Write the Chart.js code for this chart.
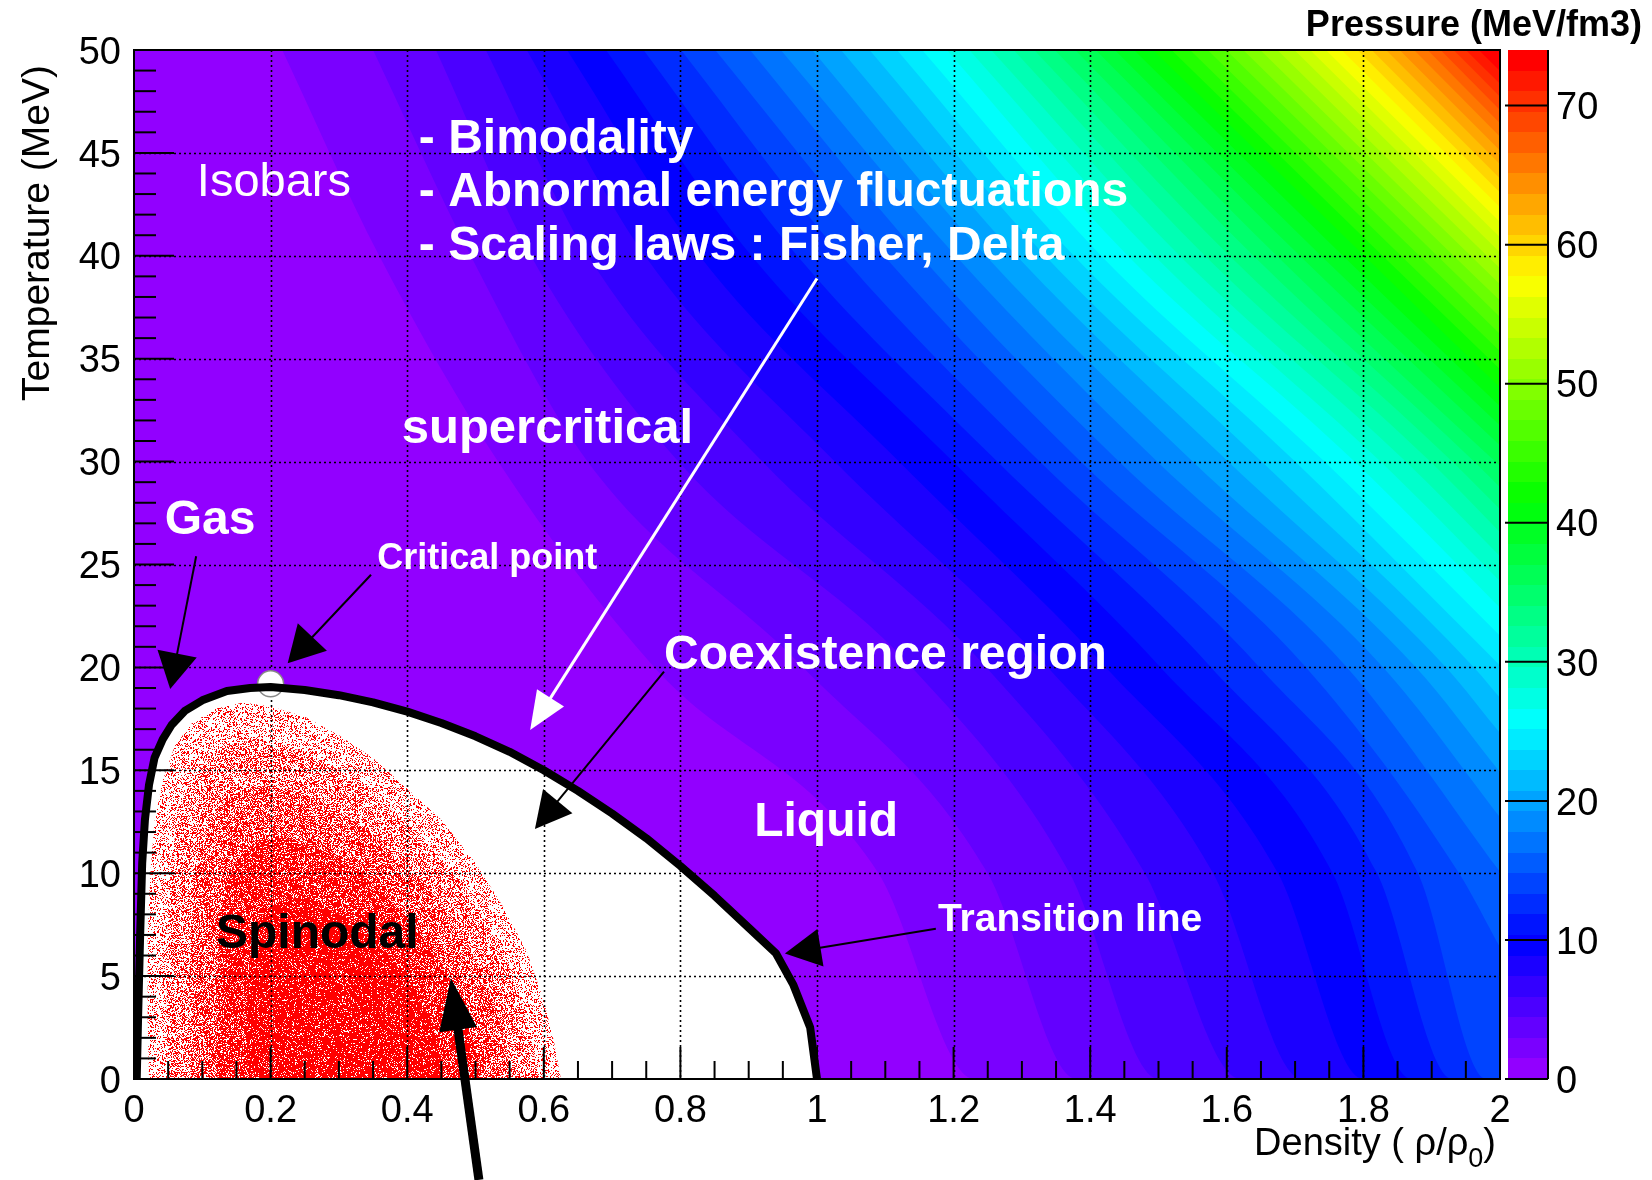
<!DOCTYPE html>
<html>
<head>
<meta charset="utf-8">
<script src="https://cdn.jsdelivr.net/npm/chart.js@4.4.1/dist/chart.umd.min.js"></script>
<style>
  html, body { margin: 0; padding: 0; background: #ffffff; }
  #wrap { width: 1652px; height: 1180px; }
</style>
</head>
<body>
<div id="wrap"><canvas id="phase" width="1652" height="1180"></canvas></div>
<script>
// ---------------- data ----------------
// isobars: pressure level (MeV/fm3) and the density (rho/rho0) where each
// level is crossed at a given temperature; null = beyond rho/rho0 = 2
const isobarLevels = [1.48,2.96,4.44,5.92,7.40,8.88,10.36,11.84,13.32,14.80,
  16.28,17.76,19.24,20.72,22.20,23.68,25.16,26.64,28.12,29.60,
  31.08,32.56,34.04,35.52,37.00,38.48,39.96,41.44,42.92,44.40,
  45.88,47.36,48.84,50.32,51.80,53.28,54.76,56.24,57.72,59.20,
  60.68,62.16,63.64,65.12,66.60,68.08,69.56,71.04,72.52];
const isobarTemps = [50, 40, 30, 20, 10, 0];
const isoRhoAtT50 = [0.217,0.350,0.442,0.515,0.575,0.634,0.691,0.746,0.801,0.851,
  0.902,0.947,0.993,1.035,1.077,1.117,1.154,1.190,1.223,1.255,
  1.288,1.318,1.348,1.378,1.408,1.436,1.464,1.492,1.519,1.546,
  1.572,1.599,1.624,1.649,1.674,1.699,1.722,1.745,1.768,1.791,
  1.812,1.833,1.853,1.874,1.894,1.913,1.932,1.950,1.969];
const isoRhoAtT40 = [0.359,0.493,0.581,0.665,0.748,0.828,0.904,0.971,1.036,1.098,
  1.151,1.203,1.247,1.292,1.334,1.376,1.416,1.455,1.494,1.531,
  1.568,1.604,1.639,1.673,1.707,1.738,1.770,1.801,1.828,1.855,
  1.882,1.908,1.932,1.957,1.981,null,null,null,null,null,
  null,null,null,null,null,null,null,null,null];
const isoRhoAtT30 = [0.533,0.664,0.797,0.920,1.026,1.120,1.199,1.264,1.326,1.386,
  1.442,1.498,1.550,1.602,1.651,1.700,1.743,1.787,1.825,1.862,
  1.898,1.930,1.962,1.993,null,null,null,null,null,null,
  null,null,null,null,null,null,null,null,null,null,
  null,null,null,null,null,null,null,null,null];
const isoRhoAtT20 = [0.762,0.980,1.139,1.248,1.338,1.423,1.503,1.577,1.648,1.716,
  1.776,1.829,1.877,1.921,1.962,null,null,null,null,null,
  null,null,null,null,null,null,null,null,null,null,
  null,null,null,null,null,null,null,null,null,null,
  null,null,null,null,null,null,null,null,null];
const isoRhoAtT10 = [1.090,1.250,1.370,1.480,1.580,1.675,1.755,1.820,1.880,1.940,
  null,null,null,null,null,null,null,null,null,null,
  null,null,null,null,null,null,null,null,null,null,
  null,null,null,null,null,null,null,null,null,null,
  null,null,null,null,null,null,null,null,null];
const isoRhoAtT0 = [1.23,1.38,1.50,1.62,1.71,1.80,1.87,1.93,1.98,null,
  null,null,null,null,null,null,null,null,null,null,
  null,null,null,null,null,null,null,null,null,null,
  null,null,null,null,null,null,null,null,null,null,
  null,null,null,null,null,null,null,null,null];
// temperature (MeV) at which an isobar leaves through rho/rho0 = 2
const isoExitTemp = [null,null,null,null,null,null,null,null,null,6.40,
  10.07,12.72,14.91,16.81,18.52,20.09,21.54,22.90,24.19,25.40,
  26.57,27.68,28.75,29.79,30.78,31.75,32.69,33.60,34.49,35.36,
  36.20,37.03,37.83,38.62,39.40,40.16,40.90,41.64,42.36,43.07,
  43.76,44.45,45.12,45.79,46.44,47.09,47.73,48.36,48.98];
const pressureMax = 74;

// liquid-gas coexistence (transition) line
const coexDensity = [0.004,0.006,0.009,0.012,0.016,0.022,0.03,0.042,0.055,0.075,0.1,0.136,0.17,0.2,
  0.25,0.3,0.35,0.4,0.45,0.5,0.55,0.6,0.65,0.7,0.75,0.8,0.85,0.9,0.94,0.965,0.99,1.0];
const coexTemp = [0,3.0,7.0,10.5,12.6,14.3,15.6,16.5,17.2,17.9,18.4,18.85,19.0,19.05,
  18.9,18.65,18.3,17.85,17.3,16.65,15.9,15.0,14.0,12.9,11.7,10.35,8.9,7.35,6.1,4.6,2.5,0];

// spinodal region outline
const spinodalDensity = [0.022,0.02,0.02,0.024,0.03,0.042,0.06,0.085,0.12,0.16,0.2,
  0.25,0.3,0.35,0.4,0.45,0.5,0.54,0.575,0.6,0.615,0.625];
const spinodalTemp = [0,3,7,10,12.5,14.5,16.2,17.3,18.0,18.3,18.1,
  17.6,16.7,15.6,14.1,12.6,10.5,8.4,6.2,3.8,1.8,0];

const criticalDensity = [0.2];
const criticalTemp = [19.2];

// tick labels
const densityTickLabels = ['0','0.2','0.4','0.6','0.8','1','1.2','1.4','1.6','1.8','2'];
const temperatureTickLabels = ['0','5','10','15','20','25','30','35','40','45','50'];
const pressureTickLabels = ['0','10','20','30','40','50','60','70'];

// ---------------- styling ----------------
const FONT = '"Liberation Sans", Arial, Helvetica, sans-serif';
const NCOLORS = 50;
const densityMax = 2;

// violet -> red spectrum at fixed lightness and saturation
function paletteColor(k) {
  if (k >= NCOLORS - 1) return 'rgb(255,0,0)';
  const hue = 280 - (k + 1) * (280 / NCOLORS);
  return 'hsl(' + hue.toFixed(2) + ',100%,50%)';
}

// speckled red fill used for the spinodal zone
function speckle(ctx, coverage) {
  const n = 128;
  const c = document.createElement('canvas');
  c.width = n; c.height = n;
  const g = c.getContext('2d');
  const img = g.createImageData(n, n);
  for (let y = 0; y < n; y++) {
    for (let x = 0; x < n; x++) {
      const h = Math.sin(x * 12.9898 + y * 78.233) * 43758.5453;
      const f = h - Math.floor(h);
      if (f < coverage) {
        const o = (y * n + x) * 4;
        img.data[o] = 255; img.data[o + 1] = 0; img.data[o + 2] = 0; img.data[o + 3] = 255;
      }
    }
  }
  g.putImageData(img, 0, 0);
  return ctx.createPattern(c, 'repeat');
}
const speckleLayers = [
  { shrink: 1.00, coverage: 0.28 },
  { shrink: 0.90, coverage: 0.44 },
  { shrink: 0.78, coverage: 0.60 },
  { shrink: 0.64, coverage: 0.76 },
  { shrink: 0.48, coverage: 0.88 }
];

// text labels placed in data coordinates (left edge, baseline)
const labels = [
  { text: 'Isobars', at: [0.092, 42.9], size: 47, weight: 'normal', color: '#ffffff' },
  { text: '- Bimodality', at: [0.417, 45.0], size: 48, weight: 'bold', color: '#ffffff' },
  { text: '- Abnormal energy fluctuations', at: [0.417, 42.4], size: 48, weight: 'bold', color: '#ffffff' },
  { text: '- Scaling laws : Fisher, Delta', at: [0.417, 39.8], size: 48, weight: 'bold', color: '#ffffff' },
  { text: 'supercritical', at: [0.392, 30.9], size: 49, weight: 'bold', color: '#ffffff' },
  { text: 'Gas', at: [0.045, 26.5], size: 48, weight: 'bold', color: '#ffffff' },
  { text: 'Critical point', at: [0.356, 24.8], size: 36, weight: 'bold', color: '#ffffff' },
  { text: 'Coexistence region', at: [0.776, 19.9], size: 48, weight: 'bold', color: '#ffffff' },
  { text: 'Liquid', at: [0.908, 11.83], size: 48, weight: 'bold', color: '#ffffff' },
  { text: 'Transition line', at: [1.177, 7.19], size: 39, weight: 'bold', color: '#ffffff' },
  { text: 'Spinodal', at: [0.12, 6.36], size: 48, weight: 'bold', color: '#000000' }
];

// pointer arrows in data coordinates
const pointers = [
  { from: [0.091, 25.4], to: [0.053, 18.95], color: '#000', width: 2, head: 36, half: 20 },
  { from: [0.347, 24.5], to: [0.225, 20.2], color: '#000', width: 2, head: 36, half: 20 },
  { from: [1.0, 38.9], to: [0.58, 16.96], color: '#fff', width: 3, head: 38, half: 16 },
  { from: [0.776, 19.8], to: [0.587, 12.15], color: '#000', width: 2, head: 36, half: 19 },
  { from: [1.174, 7.3], to: [0.953, 6.1], color: '#000', width: 2, head: 36, half: 19 },
  { from: [0.505, -4.9], to: [0.464, 4.9], color: '#000', width: 9, head: 52, half: 19 }
];

function drawPointer(ctx, xs, ys, a) {
  const x0 = xs.getPixelForValue(a.from[0]), y0 = ys.getPixelForValue(a.from[1]);
  const x1 = xs.getPixelForValue(a.to[0]), y1 = ys.getPixelForValue(a.to[1]);
  const dx = x1 - x0, dy = y1 - y0, L = Math.hypot(dx, dy);
  const ux = dx / L, uy = dy / L;
  const bx = x1 - ux * a.head, by = y1 - uy * a.head;
  ctx.save();
  ctx.strokeStyle = a.color;
  ctx.lineWidth = a.width;
  ctx.lineCap = 'butt';
  ctx.beginPath();
  ctx.moveTo(x0, y0);
  ctx.lineTo(bx + ux * 2, by + uy * 2);
  ctx.stroke();
  ctx.fillStyle = a.color;
  ctx.beginPath();
  ctx.moveTo(x1, y1);
  ctx.lineTo(bx - uy * a.half, by + ux * a.half);
  ctx.lineTo(bx + uy * a.half, by - ux * a.half);
  ctx.closePath();
  ctx.fill();
  ctx.restore();
}

// ---------------- isobar band datasets ----------------
const isoRhoByTemp = [isoRhoAtT50, isoRhoAtT40, isoRhoAtT30, isoRhoAtT20, isoRhoAtT10, isoRhoAtT0];
const bandDatasets = isobarLevels.map((level, k) => {
  const pts = [];
  isobarTemps.forEach((t, m) => {
    const rho = isoRhoByTemp[m][k];
    if (rho !== null) pts.push({ x: rho, y: t });
  });
  pts.push({ x: densityMax, y: isoExitTemp[k] !== null ? isoExitTemp[k] : 0 });
  return {
    label: 'P = ' + level,
    data: pts,
    xAxisID: 'x', yAxisID: 'y',
    showLine: true,
    fill: 'end',
    backgroundColor: paletteColor(k + 1),
    borderColor: 'rgba(0,0,0,0)',
    borderWidth: 0,
    pointRadius: 0,
    cubicInterpolationMode: 'monotone',
    order: 100 - k
  };
});

// ---------------- plugins ----------------
const fieldPlugin = {
  id: 'pressureField',
  beforeDatasetsDraw(chart) {
    // lowest pressure level everywhere below the first isobar
    const a = chart.chartArea;
    chart.ctx.save();
    chart.ctx.fillStyle = paletteColor(0);
    chart.ctx.fillRect(a.left, a.top, a.right - a.left, a.bottom - a.top);
    chart.ctx.restore();
  },
  beforeDatasetDraw(chart, args) {
    if (args.index !== 1) return;   // just before the critical point marker
    const ctx = chart.ctx;
    const xs = chart.scales.x, ys = chart.scales.y;
    const area = chart.chartArea;
    ctx.save();
    ctx.beginPath();
    ctx.rect(area.left, area.top, area.right - area.left, area.bottom - area.top);
    ctx.clip();

    // coexistence region
    ctx.fillStyle = '#ffffff';
    ctx.beginPath();
    coexDensity.forEach((d, i) => {
      const px = xs.getPixelForValue(d), py = ys.getPixelForValue(coexTemp[i]);
      if (i === 0) ctx.moveTo(px, py); else ctx.lineTo(px, py);
    });
    ctx.closePath();
    ctx.fill();

    // spinodal speckles, denser towards the middle
    const cx = xs.getPixelForValue(0.3), cy = ys.getPixelForValue(0);
    const pts = spinodalDensity.map((d, i) => [xs.getPixelForValue(d), ys.getPixelForValue(spinodalTemp[i])]);
    speckleLayers.forEach(layer => {
      ctx.fillStyle = speckle(ctx, layer.coverage);
      ctx.beginPath();
      pts.forEach((p, i) => {
        const qx = cx + (p[0] - cx) * layer.shrink;
        const qy = cy + (p[1] - cy) * layer.shrink;
        if (i === 0) ctx.moveTo(qx, qy); else ctx.lineTo(qx, qy);
      });
      ctx.closePath();
      ctx.fill();
    });

    // dotted grid
    ctx.strokeStyle = '#000000';
    ctx.lineWidth = 1.6;
    ctx.setLineDash([2, 3]);
    densityTickLabels.forEach(s => {
      const v = parseFloat(s);
      if (v <= 0 || v >= densityMax) return;
      const px = Math.round(xs.getPixelForValue(v)) + 0.5;
      ctx.beginPath(); ctx.moveTo(px, area.top); ctx.lineTo(px, area.bottom); ctx.stroke();
    });
    temperatureTickLabels.forEach(s => {
      const v = parseFloat(s);
      if (v <= 0 || v >= 50) return;
      const py = Math.round(ys.getPixelForValue(v)) + 0.5;
      ctx.beginPath(); ctx.moveTo(area.left, py); ctx.lineTo(area.right, py); ctx.stroke();
    });
    ctx.setLineDash([]);
    ctx.restore();
  }
};

const framePlugin = {
  id: 'frameAndText',
  afterDatasetsDraw(chart) {
    const ctx = chart.ctx;
    const xs = chart.scales.x, ys = chart.scales.y, zs = chart.scales.z;
    const area = chart.chartArea;
    ctx.save();

    // frame
    ctx.strokeStyle = '#000';
    ctx.lineWidth = 2;
    ctx.strokeRect(area.left, area.top, area.right - area.left, area.bottom - area.top);

    // ticks (inside the frame)
    for (let k = 0; k <= 40; k++) {
      const px = xs.getPixelForValue(k * 0.05);
      const len = (k % 4 === 0) ? 32 : 18;
      ctx.beginPath(); ctx.moveTo(px, area.bottom); ctx.lineTo(px, area.bottom - len); ctx.stroke();
    }
    for (let k = 0; k <= 50; k++) {
      const py = ys.getPixelForValue(k);
      const len = (k % 5 === 0) ? 40 : 22;
      ctx.beginPath(); ctx.moveTo(area.left, py); ctx.lineTo(area.left + len, py); ctx.stroke();
    }

    // tick labels
    const tickSize = 38;
    ctx.fillStyle = '#000';
    ctx.font = tickSize + 'px ' + FONT;
    ctx.textBaseline = 'alphabetic';
    ctx.textAlign = 'center';
    densityTickLabels.forEach(s => {
      ctx.fillText(s, xs.getPixelForValue(parseFloat(s)), area.bottom + 43);
    });
    ctx.textAlign = 'right';
    temperatureTickLabels.forEach(s => {
      ctx.fillText(s, area.left - 13, ys.getPixelForValue(parseFloat(s)) + 0.36 * tickSize);
    });

    // axis titles
    ctx.save();
    ctx.font = '39px ' + FONT;
    ctx.translate(49, area.top + 15);
    ctx.rotate(-Math.PI / 2);
    ctx.textAlign = 'right';
    ctx.fillText('Temperature (MeV)', 0, 0);
    ctx.restore();

    ctx.font = '38px ' + FONT;
    ctx.textAlign = 'left';
    const tail = ')';
    const sub = '0';
    const head = 'Density ( \u03c1/\u03c1';
    const wTail = ctx.measureText(tail).width;
    ctx.font = '27px ' + FONT;
    const wSub = ctx.measureText(sub).width;
    ctx.font = '38px ' + FONT;
    const wHead = ctx.measureText(head).width;
    const xEnd = area.right - 4, base = area.bottom + 76;
    ctx.fillText(head, xEnd - wTail - wSub - wHead, base);
    ctx.fillText(tail, xEnd - wTail, base);
    ctx.font = '27px ' + FONT;
    ctx.fillText(sub, xEnd - wTail - wSub, base + 12);

    // colour scale
    const barL = area.right + 8, barR = area.right + 48;
    for (let k = 0; k < NCOLORS; k++) {
      const yHi = Math.round(zs.getPixelForValue((k + 1) * pressureMax / NCOLORS));
      const yLo = Math.round(zs.getPixelForValue(k * pressureMax / NCOLORS));
      ctx.fillStyle = paletteColor(k);
      ctx.fillRect(barL, yHi, barR - barL, yLo - yHi);
    }
    ctx.strokeStyle = '#000';
    ctx.lineWidth = 2;
    ctx.beginPath(); ctx.moveTo(barR, area.top); ctx.lineTo(barR, area.bottom); ctx.stroke();
    ctx.fillStyle = '#000';
    ctx.font = tickSize + 'px ' + FONT;
    ctx.textAlign = 'left';
    pressureTickLabels.forEach(s => {
      const py = zs.getPixelForValue(parseFloat(s));
      ctx.beginPath(); ctx.moveTo(barL - 3, py); ctx.lineTo(barR, py); ctx.stroke();
      ctx.fillText(s, barR + 8, py + 0.36 * tickSize);
    });
    ctx.font = 'bold 36px ' + FONT;
    ctx.textAlign = 'right';
    ctx.fillText('Pressure (MeV/fm3)', 1642, 36);

    // arrows and labels
    pointers.forEach(a => drawPointer(ctx, xs, ys, a));
    ctx.textAlign = 'left';
    labels.forEach(l => {
      ctx.font = (l.weight === 'bold' ? 'bold ' : '') + l.size + 'px ' + FONT;
      ctx.fillStyle = l.color;
      ctx.fillText(l.text, xs.getPixelForValue(l.at[0]), ys.getPixelForValue(l.at[1]));
    });
    ctx.restore();
  }
};

// ---------------- chart ----------------
new Chart(document.getElementById('phase'), {
  type: 'scatter',
  data: {
    datasets: [
      {
        label: 'Transition line',
        data: coexDensity.map((d, i) => ({ x: d, y: coexTemp[i] })),
        xAxisID: 'x', yAxisID: 'y',
        showLine: true, fill: false, tension: 0,
        borderColor: '#000000', borderWidth: 8, borderJoinStyle: 'round',
        pointRadius: 0,
        order: 0
      },
      {
        label: 'Critical point',
        data: criticalDensity.map((d, i) => ({ x: d, y: criticalTemp[i] })),
        xAxisID: 'x', yAxisID: 'y',
        showLine: false,
        pointRadius: 13, pointBackgroundColor: '#ffffff',
        pointBorderColor: '#888888', pointBorderWidth: 1.5,
        order: 1
      }
    ].concat(bandDatasets)
  },
  options: {
    responsive: false,
    animation: false,
    events: [],
    layout: { padding: { top: 50, left: 0, right: 0, bottom: 0 } },
    plugins: { legend: { display: false }, tooltip: { enabled: false } },
    scales: {
      x: { type: 'linear', position: 'bottom', min: 0, max: densityMax,
           ticks: { display: false }, grid: { display: false }, border: { display: false },
           afterFit(s) { s.height = 101; } },
      y: { type: 'linear', position: 'left', min: 0, max: 50,
           ticks: { display: false }, grid: { display: false }, border: { display: false },
           afterFit(s) { s.width = 134; } },
      z: { type: 'linear', position: 'right', min: 0, max: pressureMax,
           ticks: { display: false }, grid: { display: false }, border: { display: false },
           afterFit(s) { s.width = 152; } }
    }
  },
  plugins: [fieldPlugin, framePlugin]
});
</script>
</body>
</html>
